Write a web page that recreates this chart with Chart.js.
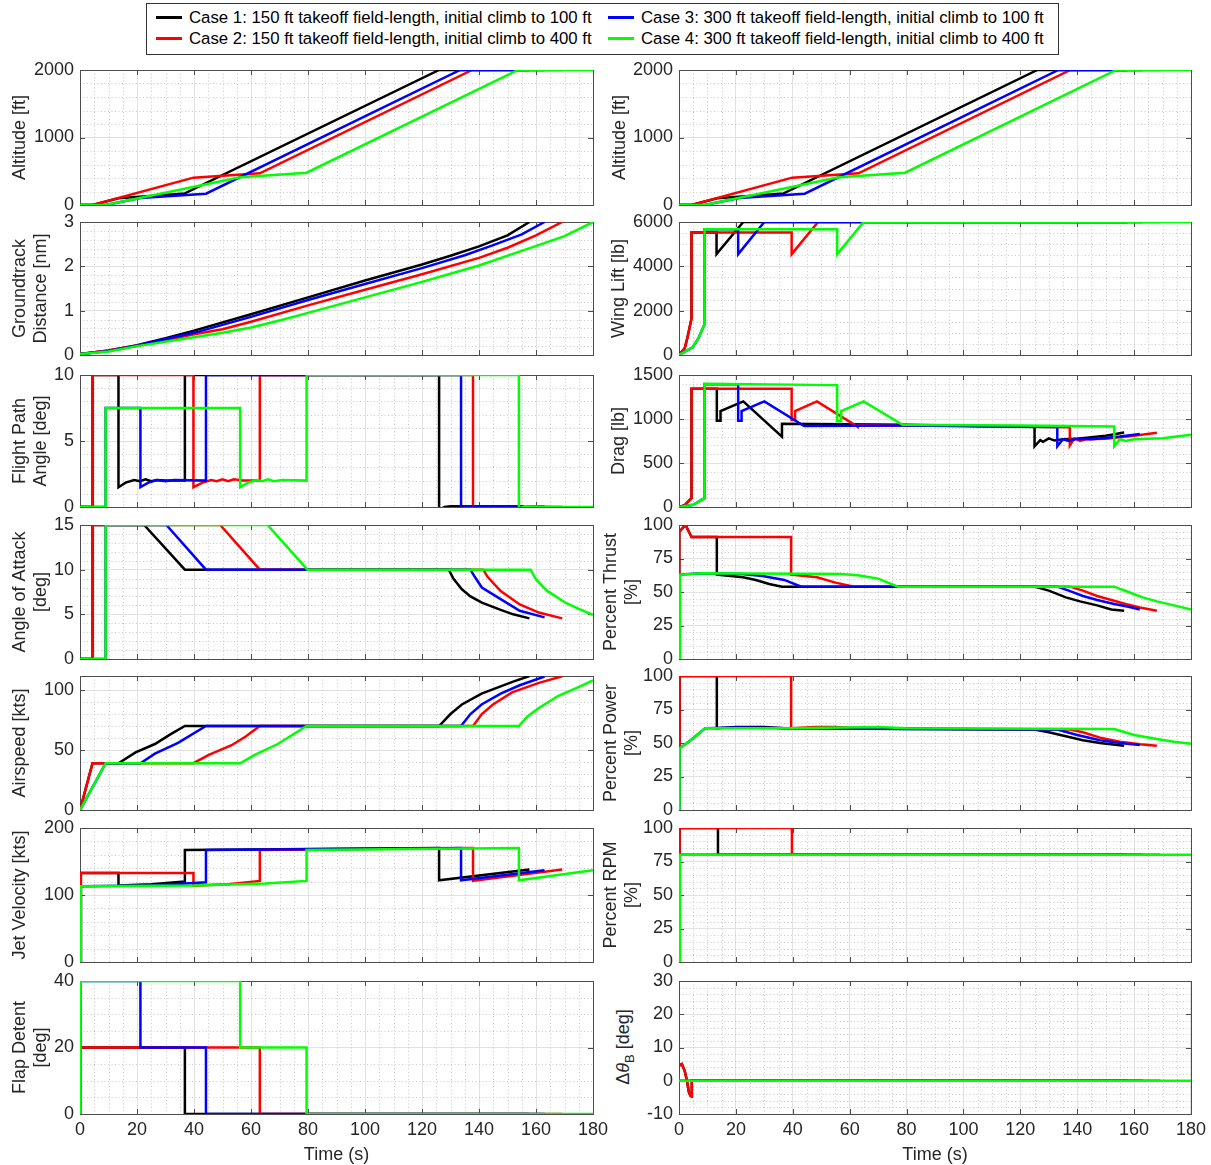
<!DOCTYPE html>
<html>
<head>
<meta charset="utf-8">
<script src="https://cdn.jsdelivr.net/npm/chart.js@4.4.0/dist/chart.umd.min.js"></script>
<style>
body { margin: 0; background: #fff; width: 1211px; height: 1165px; position: relative; overflow: hidden; font-family: "Liberation Sans", Arial, sans-serif; }
#legend { position: absolute; left: 146px; top: 3px; width: 913px; height: 52px; border: 1px solid #333; box-sizing: border-box; background: #fff; }
.item { position: absolute; font-size: 16.8px; color: #000; white-space: nowrap; line-height: 20px; }
.item i { display: inline-block; width: 26px; height: 3px; vertical-align: middle; margin-right: 7px; margin-top: -2px; }
#dtb { position: absolute; left: 625px; top: 1047px; transform: translate(-50%, -50%) rotate(-90deg); font-size: 18px; color: #262626; white-space: nowrap; }
#dtb sub { font-size: 13px; }
</style>
</head>
<body>
<div id="legend">
  <div class="item" style="left:9px;top:4px"><i style="background:#000"></i>Case 1: 150 ft takeoff field-length, initial climb to 100 ft</div>
  <div class="item" style="left:9px;top:25px"><i style="background:#f00"></i>Case 2: 150 ft takeoff field-length, initial climb to 400 ft</div>
  <div class="item" style="left:461px;top:4px"><i style="background:#00f"></i>Case 3: 300 ft takeoff field-length, initial climb to 100 ft</div>
  <div class="item" style="left:461px;top:25px"><i style="background:#0f0"></i>Case 4: 300 ft takeoff field-length, initial climb to 400 ft</div>
</div>
<div id="dtb">&Delta;<i>&theta;</i><sub>B</sub> [deg]</div>
<script>
// tick labels
var xTicks = [0, 20, 40, 60, 80, 100, 120, 140, 160, 180];
var altTicks = [0, 1000, 2000];
var distTicks = [0, 1, 2, 3];
var fpaTicks = [0, 5, 10];
var aoaTicks = [0, 5, 10, 15];
var speedTicks = [0, 50, 100];
var jetTicks = [0, 100, 200];
var flapTicks = [0, 20, 40];
var liftTicks = [0, 2000, 4000, 6000];
var dragTicks = [0, 500, 1000, 1500];
var pctTicks = [0, 25, 50, 75, 100];
var dtbTicks = [-10, 0, 10, 20, 30];

var caseNames = [
    'Case 1: 150 ft takeoff field-length, initial climb to 100 ft',
    'Case 2: 150 ft takeoff field-length, initial climb to 400 ft',
    'Case 3: 300 ft takeoff field-length, initial climb to 100 ft',
    'Case 4: 300 ft takeoff field-length, initial climb to 400 ft'
];
var caseColors = ['#000000', '#ff0000', '#0000ff', '#00ff00'];

// [time s, value]
var alt1 = [[0,0],[4.4,0],[13.5,100],[36.8,172],[126,2000],[157.7,2000]];
var alt2 = [[0,0],[4.4,0],[39.8,405],[63.1,470],[137.6,2000],[169.2,2000]];
var alt3 = [[0,0],[9,0],[21.2,105],[44.2,168],[133.4,2000],[163,2000]];
var alt4 = [[0,0],[9,0],[56.2,410],[79.5,478],[153.7,2000],[180,2000]];

var dist1 = [[0,0.02],[10,0.1],[20,0.22],[30,0.38],[40,0.55],[60,0.92],[80,1.3],[100,1.68],[120,2.04],[130,2.24],[140,2.45],[150,2.7],[157.7,3.0]];
var dist2 = [[0,0.02],[10,0.1],[20,0.21],[30,0.33],[40,0.47],[50,0.58],[60,0.75],[80,1.12],[100,1.47],[120,1.82],[140,2.19],[150,2.42],[160,2.7],[169.2,3.0]];
var dist3 = [[0,0.02],[10,0.09],[20,0.21],[30,0.36],[40,0.5],[60,0.86],[80,1.24],[100,1.6],[120,1.96],[135,2.25],[145,2.48],[155,2.72],[163,3.0]];
var dist4 = [[0,0.02],[10,0.08],[20,0.2],[30,0.3],[40,0.4],[50,0.5],[60,0.62],[70,0.78],[80,0.95],[100,1.3],[120,1.65],[140,2.02],[155,2.35],[170,2.68],[180,3.0]];

var fpa1 = [[0,0],[4.4,0],[4.4,10],[13.5,10],[13.5,1.5],[16,1.85],[19,2.05],[21,1.95],[23,2.1],[25,1.95],[27,2.05],[30,2.0],[36.8,2.0],[36.8,10],[126,10],[126,-0.2],[128,0],[130,0.05],[157.7,0]];
var fpa2 = [[0,0],[4.4,0],[4.4,10],[39.8,10],[39.8,1.5],[43,1.85],[46,2.05],[48,1.95],[50,2.1],[52,1.95],[54,2.1],[57,2.0],[63.1,2.0],[63.1,10],[137.9,10],[137.9,-0.2],[140,0],[169.2,0]];
var fpa3 = [[0,0],[9,0],[9,7.5],[21.2,7.5],[21.2,1.5],[24,1.85],[27,2.05],[30,1.95],[33,2.05],[44.2,2.0],[44.2,10],[133.7,10],[133.7,-0.15],[136,0.05],[163,0.05]];
var fpa4 = [[0,0],[9,0],[9,7.5],[56.2,7.5],[56.2,1.5],[59,1.85],[62,2.05],[64,1.95],[66,2.1],[68,1.95],[71,2.05],[79.5,2.0],[79.5,10],[154,10],[154,-0.1],[156,0.05],[170,0],[180,0]];

var aoa1 = [[0,0],[4.4,0],[4.4,15],[22.5,15],[36.8,10],[129.4,10],[131,9],[134,7.8],[137,7],[141,6.3],[147.6,5.5],[152,5],[157.7,4.55]];
var aoa2 = [[0,0],[4.4,0],[4.4,15],[49.2,15],[63.1,10],[141.5,10],[143,9.2],[147.6,7.6],[154.3,6.1],[161,5.2],[169.2,4.55]];
var aoa3 = [[0,0],[9,0],[9,15],[30.3,15],[44.2,10],[137,10],[138.5,9.2],[141,8.0],[147.6,6.7],[154.3,5.4],[163,4.66]];
var aoa4 = [[0,0],[9,0],[9,15],[65.8,15],[79.8,10],[158.1,10],[160,8.9],[163.8,7.65],[170.5,6.27],[175,5.6],[180,4.93]];

var spd1 = [[0,0],[4.4,39],[13.5,39],[19.5,48],[26.3,55],[31.7,63],[36.8,70],[126,70],[130,80],[134,88],[140.9,97],[147.6,103],[152,107],[157.7,111.7]];
var spd2 = [[0,0],[4.4,39],[39.8,39],[45.2,46],[53.2,54],[58,61],[63.1,70],[137.9,70],[141,80],[144.9,88],[151.6,98],[161,106],[169.2,111.5]];
var spd3 = [[0,0],[9,39],[21.2,39],[26.3,47],[34.4,56],[44.2,70],[133.7,70],[137,80],[140.9,88],[147.6,97],[154.3,104],[163,111.3]];
var spd4 = [[0,0],[9,39],[56.2,39],[61.3,46],[69.4,55],[79.5,70],[154,70],[157,78],[161,85],[167.7,95],[174.5,102],[180,108]];

var jet1 = [[0,0],[0.3,133],[13.5,133],[13.5,114],[25,116],[36.8,120],[36.8,167],[126,170],[126,122],[157.7,138]];
var jet2 = [[0,0],[0.3,133],[39.8,133],[39.8,114],[52,116],[63.1,121],[63.1,167],[137.9,170],[137.9,121],[169.2,138]];
var jet3 = [[0,0],[0.3,113],[25,114],[44.2,119],[44.2,167],[133.7,170],[133.7,122],[163,137]];
var jet4 = [[0,0],[0.3,113],[40,114],[65,117],[79.5,121],[79.5,167],[154,170],[154,122],[180,137]];

var flap1 = [[0,0],[0.2,20],[36.8,20],[36.8,0],[157.7,0]];
var flap2 = [[0,0],[0.2,20],[63.1,20],[63.1,0],[169.2,0]];
var flap3 = [[0,0],[0.2,40],[21.2,40],[21.2,20],[44.2,20],[44.2,0],[163,0]];
var flap4 = [[0,0],[0.2,40],[56.2,40],[56.2,20],[79.5,20],[79.5,0],[180,0]];

var lift1 = [[0,0],[2,300],[3,800],[4.4,1650],[4.4,5530],[13.2,5530],[13.2,4550],[22.6,6000],[157.7,6000]];
var lift2 = [[0,0],[2,300],[3,800],[4.4,1650],[4.4,5530],[39.6,5530],[39.6,4550],[48.9,6000],[169.2,6000]];
var lift3 = [[0,0],[4.8,350],[6.8,750],[9,1400],[9,5670],[20.8,5670],[20.8,4550],[30,6000],[163,6000]];
var lift4 = [[0,0],[4.8,350],[6.8,750],[9,1400],[9,5670],[55.6,5670],[55.6,4550],[64.9,6000],[180,6000]];

var drag1 = [[0,0],[2,20],[4.4,100],[4.4,1345],[13.3,1345],[13.3,980],[14.6,980],[14.6,1090],[22.6,1200],[36.2,800],[36.2,945],[80,935],[125,910],[125,690],[127,760],[128,740],[130,780],[132,755],[135,770],[140,775],[150,810],[156.5,846]];
var drag2 = [[0,0],[2,20],[4.4,100],[4.4,1345],[39.6,1345],[39.6,990],[40.8,990],[40.8,1090],[48.5,1200],[62.9,910],[63,930],[100,920],[137.4,905],[137.4,700],[139,780],[141,750],[143,770],[150,775],[160,810],[168,845]];
var drag3 = [[0,0],[5,25],[9,100],[9,1395],[20.8,1395],[20.8,980],[22,980],[22,1090],[30,1200],[44,920],[80,925],[133,910],[133,690],[135,770],[137,750],[140,775],[145,770],[155,800],[162,830]];
var drag4 = [[0,0],[5,25],[9,100],[9,1400],[55.6,1385],[55.6,975],[57,975],[57,1090],[64.9,1200],[78.6,935],[120,925],[153,915],[153,690],[155,770],[157,750],[160,770],[170,780],[180,820]];

var thr1 = [[0,0],[0.1,95],[2.3,100],[4.4,91],[13.3,91],[13.3,63],[22.5,61],[27,59],[31.7,56],[36.2,54],[125,54],[130,51],[136,46],[141,43],[147,40],[152,37],[156.5,36]];
var thr2 = [[0,0],[0.1,95],[2.3,100],[4.4,91],[39.4,91],[39.4,63],[48.5,61],[55,57],[61.5,54],[137.4,54],[142,51],[147,47],[152,44],[157,41],[162,38.5],[168,36]];
var thr3 = [[0,0],[0.3,63],[8,64],[22,63.5],[29.4,62],[37,59],[43,54],[133,54],[137,51],[142,47],[147,44],[153,41],[158,39],[162,37]];
var thr4 = [[0,0],[0.3,63],[8,64],[56.7,63.5],[63,62.5],[70,60],[77,54],[153,54],[158,50],[163,46],[168,43],[174,40],[180,37]];

var pow1 = [[0,0],[0.2,100],[13.3,100],[13.3,61],[20,62],[30,62],[37,61],[125,60],[130,58],[136,55],[142,52],[148,50],[156.5,48]];
var pow2 = [[0,0],[0.2,100],[39.4,100],[39.4,61],[48,62],[55,62],[63,61],[137.4,60],[142,58],[148,54],[155,51],[162,49],[168,48]];
var pow3 = [[0,0],[0.2,46],[4.1,52],[9.2,61],[20,61.5],[40,61],[80,60.5],[133,60],[140,56],[148,52],[155,50],[162,48.5]];
var pow4 = [[0,0],[0.2,46],[4.1,52],[9.2,61],[40,61],[70,62],[80,61],[153,60.5],[160,56],[168,53],[174,51],[180,49.5]];

var rpm1 = [[0,0],[0.2,100],[13.7,100],[13.7,80],[157.7,80]];
var rpm2 = [[0,0],[0.2,100],[39.7,100],[39.7,80],[169.2,80]];
var rpm3 = [[0,0],[0.3,80],[163,80]];
var rpm4 = [[0,0],[0.3,80],[180,80]];

var dtb1 = [[0,4.5],[1,5],[2,3],[2.8,0],[3.5,-3.5],[4,-4.5],[4.4,-4.7],[4.5,0],[157.7,0]];
var dtb2 = [[0,4.5],[1,5],[2,3],[2.8,0],[3.5,-3.5],[4,-4.5],[4.4,-4.7],[4.5,0],[169.2,0]];
var dtb3 = [[0,0],[163,0]];
var dtb4 = [[0,0],[180,0]];

var FONT = '"Liberation Sans", Arial, sans-serif';
var rowTop = [70, 222, 375, 525, 676, 828, 981];
var rowBottom = [205, 355, 507, 659, 810, 962, 1114];
var PAD = 18;

var panels = [
    { col: 0, row: 0, title: 'Altitude [ft]', pad: 9, min: 0, max: 2000, ticks: altTicks, minor: 200, series: [alt1, alt2, alt3, alt4] },
    { col: 0, row: 1, title: ['Groundtrack', 'Distance [nm]'], pad: 9, min: 0, max: 3, ticks: distTicks, minor: 0.2, series: [dist1, dist2, dist3, dist4] },
    { col: 0, row: 2, title: ['Flight Path', 'Angle [deg]'], pad: 9, min: 0, max: 10, ticks: fpaTicks, minor: 1, series: [fpa1, fpa2, fpa3, fpa4] },
    { col: 0, row: 3, title: ['Angle of Attack', '[deg]'], pad: 9, min: 0, max: 15, ticks: aoaTicks, minor: 1, series: [aoa1, aoa2, aoa3, aoa4] },
    { col: 0, row: 4, title: 'Airspeed [kts]', pad: 9, min: 0, max: 111.7, ticks: speedTicks, minor: 10, series: [spd1, spd2, spd3, spd4] },
    { col: 0, row: 5, title: 'Jet Velocity [kts]', pad: 9, min: 0, max: 200, ticks: jetTicks, minor: 20, series: [jet1, jet2, jet3, jet4] },
    { col: 0, row: 6, title: ['Flap Detent', '[deg]'], pad: 9, min: 0, max: 40, ticks: flapTicks, minor: 5, series: [flap1, flap2, flap3, flap4] },
    { col: 1, row: 0, title: 'Altitude [ft]', pad: 9, min: 0, max: 2000, ticks: altTicks, minor: 200, series: [alt1, alt2, alt3, alt4] },
    { col: 1, row: 1, title: 'Wing Lift [lb]', pad: 8, min: 0, max: 6000, ticks: liftTicks, minor: 500, series: [lift1, lift2, lift3, lift4] },
    { col: 1, row: 2, title: 'Drag [lb]', pad: 8, min: 0, max: 1500, ticks: dragTicks, minor: 100, series: [drag1, drag2, drag3, drag4] },
    { col: 1, row: 3, title: ['Percent Thrust', '[%]'], pad: 0, min: 0, max: 100, ticks: pctTicks, minor: 5, series: [thr1, thr2, thr3, thr4] },
    { col: 1, row: 4, title: ['Percent Power', '[%]'], pad: 0, min: 0, max: 100, ticks: pctTicks, minor: 5, series: [pow1, pow2, pow3, pow4] },
    { col: 1, row: 5, title: ['Percent RPM', '[%]'], pad: 0, min: 0, max: 100, ticks: pctTicks, minor: 5, series: [rpm1, rpm2, rpm3, rpm4] },
    { col: 1, row: 6, title: null, pad: 0, min: -10, max: 30, ticks: dtbTicks, minor: 2, series: [dtb1, dtb2, dtb3, dtb4] }
];

// minor dotted grid, axes box and inward tick marks
var boxPlugin = {
    id: 'box',
    beforeDatasetsDraw: function (chart, args, opts) {
        var ctx = chart.ctx, a = chart.chartArea, x = chart.scales.x, y = chart.scales.y;
        var i, n, v, p;
        ctx.save();
        ctx.strokeStyle = '#c8c8c8';
        ctx.lineWidth = 1;
        ctx.setLineDash([1, 2.5]);
        ctx.beginPath();
        n = Math.round((x.max - x.min) / 5);
        for (i = 1; i < n; i++) {
            v = x.min + i * 5;
            if (v % 20 === 0) continue;
            p = Math.round(x.getPixelForValue(v)) + 0.5;
            ctx.moveTo(p, a.top); ctx.lineTo(p, a.bottom);
        }
        n = Math.round((y.max - y.min) / opts.minor);
        for (i = 1; i < n; i++) {
            v = y.min + i * opts.minor;
            if (opts.major.some(function (m) { return Math.abs(m - v) < 1e-6; })) continue;
            p = Math.round(y.getPixelForValue(v)) + 0.5;
            ctx.moveTo(a.left, p); ctx.lineTo(a.right, p);
        }
        ctx.stroke();
        ctx.setLineDash([]);

        ctx.strokeStyle = '#4d4d4d';
        ctx.beginPath();
        xTicks.forEach(function (t) {
            var px = Math.round(x.getPixelForValue(t)) + 0.5;
            ctx.moveTo(px, a.bottom); ctx.lineTo(px, a.bottom - 5);
            ctx.moveTo(px, a.top); ctx.lineTo(px, a.top + 5);
        });
        opts.major.forEach(function (t) {
            var py = Math.round(y.getPixelForValue(t)) + 0.5;
            ctx.moveTo(a.left, py); ctx.lineTo(a.left + 5, py);
            ctx.moveTo(a.right, py); ctx.lineTo(a.right - 5, py);
        });
        ctx.stroke();
        ctx.strokeRect(Math.round(a.left) + 0.5, Math.round(a.top) + 0.5, Math.round(a.right - a.left), Math.round(a.bottom - a.top));
        ctx.restore();
    }
};

function plainLabel(v) { return String(v); }

function buildPanel(p) {
    var left = p.col === 0;
    var bottom = p.row === 6;
    var top = rowTop[p.row];
    var h = rowBottom[p.row] - top;
    var W = left ? 620 : 611;
    var H = PAD + h + (bottom ? 56 : PAD);
    var cv = document.createElement('canvas');
    cv.width = W; cv.height = H;
    cv.style.cssText = 'position:absolute;left:' + (left ? 0 : 600) + 'px;top:' + (top - PAD) + 'px;width:' + W + 'px;height:' + H + 'px';
    document.body.appendChild(cv);

    var textColor = '#262626';
    new Chart(cv, {
        type: 'line',
        data: {
            datasets: p.series.map(function (s, i) {
                return {
                    label: caseNames[i],
                    data: s.map(function (q) { return { x: q[0], y: q[1] }; }),
                    borderColor: caseColors[i],
                    borderWidth: 2.5,
                    pointRadius: 0,
                    tension: 0,
                    fill: false,
                    order: 4 - i
                };
            })
        },
        options: {
            responsive: false,
            animation: false,
            devicePixelRatio: 1,
            layout: { padding: { left: 0, right: left ? 27 : 20, top: PAD, bottom: bottom ? 4 : PAD } },
            plugins: {
                legend: { display: false },
                tooltip: { enabled: false },
                box: { minor: p.minor, major: p.ticks }
            },
            scales: {
                x: {
                    type: 'linear', min: 0, max: 180,
                    afterBuildTicks: function (s) { s.ticks = xTicks.map(function (v) { return { value: v }; }); },
                    afterFit: function (s) { s.height = bottom ? 52 : 0; },
                    grid: { color: '#e2e2e2', drawTicks: false },
                    border: { display: false },
                    ticks: { display: bottom, autoSkip: false, maxRotation: 0, padding: 5, color: textColor, font: { size: 18, family: FONT }, callback: plainLabel },
                    title: { display: bottom, text: 'Time (s)', color: textColor, font: { size: 18, family: FONT }, padding: { top: 1, bottom: 0 } }
                },
                y: {
                    type: 'linear', min: p.min, max: p.max,
                    afterBuildTicks: function (s) { s.ticks = p.ticks.map(function (v) { return { value: v }; }); },
                    afterFit: function (s) { s.width = left ? 80 : 79; },
                    grid: { color: '#e2e2e2', drawTicks: false },
                    border: { display: false },
                    ticks: { padding: 6, color: textColor, font: { size: 18, family: FONT }, callback: plainLabel },
                    title: { display: !!p.title, text: p.title || '', color: textColor, font: { size: 18, family: FONT }, padding: { top: p.pad, bottom: 0 } }
                }
            }
        },
        plugins: [boxPlugin]
    });
}

panels.forEach(buildPanel);
</script>
</body>
</html>
